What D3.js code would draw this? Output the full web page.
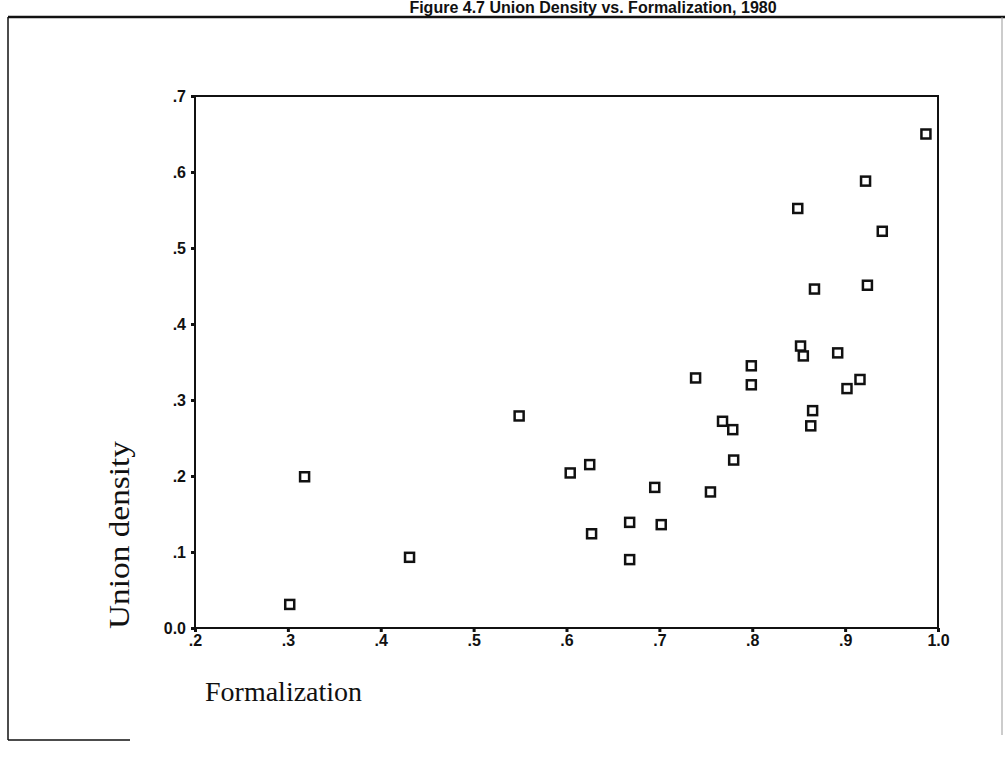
<!DOCTYPE html>
<html>
<head>
<meta charset="utf-8">
<script src="https://cdn.jsdelivr.net/npm/d3@7/dist/d3.min.js"></script>
<style>
  html, body { margin: 0; padding: 0; background: #fff; }
  svg { display: block; }
</style>
</head>
<body>
<script>
// Data (Formalization vs Union density)
const formalization = [0.302, 0.318, 0.431, 0.549, 0.604, 0.625, 0.627, 0.668, 0.668, 0.695,
  0.702, 0.739, 0.755, 0.768, 0.779, 0.780, 0.799, 0.799, 0.849, 0.852,
  0.855, 0.863, 0.865, 0.867, 0.892, 0.902, 0.916, 0.922, 0.924, 0.940, 0.987];
const unionDensity = [0.031, 0.199, 0.093, 0.279, 0.204, 0.215, 0.124, 0.139, 0.090, 0.185,
  0.136, 0.329, 0.179, 0.272, 0.261, 0.221, 0.345, 0.320, 0.552, 0.371,
  0.358, 0.266, 0.286, 0.446, 0.362, 0.315, 0.327, 0.588, 0.451, 0.522, 0.650];
const xTicks = [0.2, 0.3, 0.4, 0.5, 0.6, 0.7, 0.8, 0.9, 1.0];
const yTicks = [0.0, 0.1, 0.2, 0.3, 0.4, 0.5, 0.6, 0.7];
const titleText = "Figure 4.7 Union Density vs. Formalization, 1980";
const xLabel = "Formalization";
const yLabel = "Union density";

const W = 1005, H = 771;
const svg = d3.select("body").append("svg").attr("width", W).attr("height", H);

const x = d3.scaleLinear().domain([0.2, 1.0]).range([195, 938]);
const y = d3.scaleLinear().domain([0.0, 0.7]).range([628, 96]);

const fmt = d => d === 0 ? "0.0" : (d >= 1 ? d.toFixed(1) : d.toFixed(1).replace(/^0/, ""));

// Title
svg.append("text").attr("x", 593).attr("y", 13)
  .attr("text-anchor", "middle")
  .style("font-family", "Liberation Sans, Arial, sans-serif")
  .style("font-weight", "bold").style("font-size", "16px")
  .attr("fill", "#111")
  .text(titleText);

// Outer page frame
const frame = svg.append("g").attr("stroke", "#111").attr("fill", "none");
frame.append("line").attr("x1", 8).attr("x2", 1005).attr("y1", 17).attr("y2", 17).attr("stroke-width", 2.5);
frame.append("line").attr("x1", 8).attr("x2", 8).attr("y1", 17).attr("y2", 740).attr("stroke-width", 1.5);
frame.append("line").attr("x1", 8).attr("x2", 130).attr("y1", 740).attr("y2", 740).attr("stroke-width", 1.5);
frame.append("line").attr("x1", 1002).attr("x2", 1002).attr("y1", 17).attr("y2", 735).attr("stroke-width", 1).attr("stroke", "#999");

// Plot box
svg.append("rect")
  .attr("x", x(0.2)).attr("y", y(0.7))
  .attr("width", x(1.0) - x(0.2)).attr("height", y(0) - y(0.7))
  .attr("fill", "none").attr("stroke", "#111").attr("stroke-width", 2);

// Axes
const xAxis = svg.append("g").attr("transform", `translate(0,${y(0)})`)
  .call(d3.axisBottom(x).tickValues(xTicks).tickFormat(fmt).tickSize(4).tickPadding(3));
const yAxis = svg.append("g").attr("transform", `translate(${x(0.2)},0)`)
  .call(d3.axisLeft(y).tickValues(yTicks).tickFormat(fmt).tickSize(4).tickPadding(5));
[xAxis, yAxis].forEach(a => {
  a.select(".domain").remove();
  a.selectAll(".tick line").attr("stroke", "#111").attr("stroke-width", 3);
  a.selectAll(".tick text")
    .attr("fill", "#111")
    .style("font-family", "Liberation Sans, Arial, sans-serif")
    .style("font-weight", "bold")
    .style("font-size", "16px");
});

// Points
svg.append("g").selectAll("rect")
  .data(formalization.map((f, i) => [f, unionDensity[i]]))
  .join("rect")
  .attr("x", d => x(d[0]) - 4.5).attr("y", d => y(d[1]) - 4.5)
  .attr("width", 9).attr("height", 9)
  .attr("fill", "#fff").attr("stroke", "#111").attr("stroke-width", 2.5);

// Axis labels
svg.append("text").attr("x", 205).attr("y", 701)
  .style("font-family", "Liberation Serif, Times New Roman, serif")
  .style("font-size", "28px").attr("fill", "#111")
  .text(xLabel);
svg.append("text")
  .attr("transform", "translate(129,535) rotate(-90)")
  .attr("text-anchor", "middle")
  .attr("textLength", 188).attr("lengthAdjust", "spacingAndGlyphs")
  .style("font-family", "Liberation Serif, Times New Roman, serif")
  .style("font-size", "29px").attr("fill", "#111")
  .text(yLabel);
</script>
</body>
</html>
